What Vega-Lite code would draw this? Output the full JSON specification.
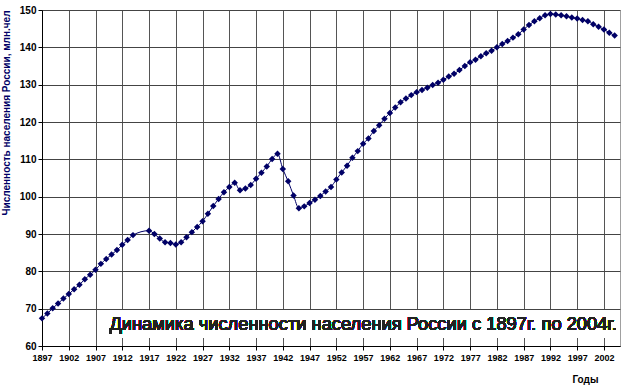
{
  "$schema": "https://vega.github.io/schema/vega-lite/v6.json",
  "width": 578,
  "height": 336,
  "autosize": {"type": "none"},
  "padding": {"left": 42, "top": 10, "right": 7, "bottom": 43},
  "background": "white",
  "config": {
    "view": {"stroke": "#a0a0a0", "strokeWidth": 1},
    "font": "Liberation Sans"
  },
  "data": {"values": [
    {"year": 1897, "pop": 67.4}, {"year": 1898, "pop": 68.7}, {"year": 1899, "pop": 70.1},
    {"year": 1900, "pop": 71.4}, {"year": 1901, "pop": 72.7}, {"year": 1902, "pop": 73.9},
    {"year": 1903, "pop": 75.2}, {"year": 1904, "pop": 76.4}, {"year": 1905, "pop": 77.9},
    {"year": 1906, "pop": 79.1}, {"year": 1907, "pop": 80.4}, {"year": 1908, "pop": 82.0},
    {"year": 1909, "pop": 83.3}, {"year": 1910, "pop": 84.5}, {"year": 1911, "pop": 85.7},
    {"year": 1912, "pop": 87.1}, {"year": 1913, "pop": 88.4}, {"year": 1914, "pop": 89.7},
    {"year": 1917, "pop": 90.9}, {"year": 1918, "pop": 90.0}, {"year": 1919, "pop": 88.8},
    {"year": 1920, "pop": 87.8}, {"year": 1921, "pop": 87.6}, {"year": 1922, "pop": 87.2},
    {"year": 1923, "pop": 87.8}, {"year": 1924, "pop": 89.1}, {"year": 1925, "pop": 90.5},
    {"year": 1926, "pop": 91.9}, {"year": 1927, "pop": 93.4}, {"year": 1928, "pop": 95.4},
    {"year": 1929, "pop": 97.5}, {"year": 1930, "pop": 99.4}, {"year": 1931, "pop": 101.2},
    {"year": 1932, "pop": 102.6}, {"year": 1933, "pop": 103.7}, {"year": 1934, "pop": 101.7},
    {"year": 1935, "pop": 102.2}, {"year": 1936, "pop": 103.1}, {"year": 1937, "pop": 104.8},
    {"year": 1938, "pop": 106.4}, {"year": 1939, "pop": 108.1}, {"year": 1940, "pop": 110.1},
    {"year": 1941, "pop": 111.5}, {"year": 1942, "pop": 107.4}, {"year": 1943, "pop": 104.1},
    {"year": 1944, "pop": 100.3}, {"year": 1945, "pop": 96.9}, {"year": 1946, "pop": 97.4},
    {"year": 1947, "pop": 98.3}, {"year": 1948, "pop": 99.2}, {"year": 1949, "pop": 100.2},
    {"year": 1950, "pop": 101.4}, {"year": 1951, "pop": 102.6}, {"year": 1952, "pop": 104.6},
    {"year": 1953, "pop": 106.5}, {"year": 1954, "pop": 108.3}, {"year": 1955, "pop": 110.4},
    {"year": 1956, "pop": 112.2}, {"year": 1957, "pop": 114.2}, {"year": 1958, "pop": 115.6},
    {"year": 1959, "pop": 117.6}, {"year": 1960, "pop": 119.1}, {"year": 1961, "pop": 120.9},
    {"year": 1962, "pop": 122.4}, {"year": 1963, "pop": 123.9}, {"year": 1964, "pop": 125.3},
    {"year": 1965, "pop": 126.3}, {"year": 1966, "pop": 127.2}, {"year": 1967, "pop": 128.0},
    {"year": 1968, "pop": 128.6}, {"year": 1969, "pop": 129.2}, {"year": 1970, "pop": 129.9},
    {"year": 1971, "pop": 130.5}, {"year": 1972, "pop": 131.3}, {"year": 1973, "pop": 132.2},
    {"year": 1974, "pop": 132.9}, {"year": 1975, "pop": 133.9}, {"year": 1976, "pop": 135.0},
    {"year": 1977, "pop": 136.0}, {"year": 1978, "pop": 136.7}, {"year": 1979, "pop": 137.6},
    {"year": 1980, "pop": 138.4}, {"year": 1981, "pop": 139.1}, {"year": 1982, "pop": 140.0},
    {"year": 1983, "pop": 140.9}, {"year": 1984, "pop": 141.7}, {"year": 1985, "pop": 142.6},
    {"year": 1986, "pop": 143.5}, {"year": 1987, "pop": 144.8}, {"year": 1988, "pop": 146.0},
    {"year": 1989, "pop": 147.0}, {"year": 1990, "pop": 147.8}, {"year": 1991, "pop": 148.6},
    {"year": 1992, "pop": 148.9}, {"year": 1993, "pop": 148.8}, {"year": 1994, "pop": 148.6},
    {"year": 1995, "pop": 148.3}, {"year": 1996, "pop": 148.0}, {"year": 1997, "pop": 147.7},
    {"year": 1998, "pop": 147.3}, {"year": 1999, "pop": 147.0}, {"year": 2000, "pop": 146.2},
    {"year": 2001, "pop": 145.5}, {"year": 2002, "pop": 144.8}, {"year": 2003, "pop": 143.9},
    {"year": 2004, "pop": 143.2}
  ]},
  "layer": [
    {
      "mark": {"type": "line", "color": "#000066", "strokeWidth": 1, "interpolate": "monotone",
               "point": {"shape": "diamond", "size": 42, "filled": true, "color": "#000066"}},
      "encoding": {
        "x": {
          "field": "year", "type": "quantitative",
          "scale": {"domain": [1897, 2005], "nice": false, "zero": false},
          "axis": {
            "values": [1897, 1902, 1907, 1912, 1917, 1922, 1927, 1932, 1937, 1942, 1947, 1952, 1957, 1962, 1967, 1972, 1977, 1982, 1987, 1992, 1997, 2002],
            "tickCount": 60,
            "format": "d",
            "title": "Годы",
            "titleAnchor": "end",
            "titleAlign": "right",
            "titleBaseline": "alphabetic",
            "titleX": 556,
            "titleY": 36,
            "titleFont": "Liberation Sans",
            "titleFontSize": 10,
            "titleFontWeight": "bold",
            "titleColor": "#000000",
            "labelFont": "Liberation Sans",
            "labelFontSize": 9,
            "labelFontWeight": "bold",
            "labelColor": "#000000",
            "labelPadding": 3,
            "labelFlush": false,
            "labelOverlap": false,
            "domainColor": "#000000",
            "tickColor": "#000000",
            "tickSize": 4,
            "grid": true,
            "gridColor": "#555555",
            "gridWidth": 1
          }
        },
        "y": {
          "field": "pop", "type": "quantitative",
          "scale": {"domain": [60, 150], "nice": false, "zero": false},
          "axis": {
            "values": [60, 70, 80, 90, 100, 110, 120, 130, 140, 150],
            "tickCount": 30,
            "title": "Численность населения России, млн.чел",
            "titleAnchor": "end",
            "titleFont": "Liberation Sans",
            "titleFontSize": 10,
            "titleFontWeight": "bold",
            "titleColor": "#000066",
            "titlePadding": 8,
            "labelFont": "Liberation Sans",
            "labelFontSize": 10,
            "labelFontWeight": "bold",
            "labelColor": "#000000",
            "labelPadding": 2,
            "labelFlush": false,
            "labelOverlap": false,
            "domainColor": "#000000",
            "tickColor": "#000000",
            "tickSize": 4,
            "grid": true,
            "gridColor": "#444444",
            "gridWidth": 1
          }
        }
      }
    },
    {
      "mark": {"type": "rect", "fill": "white", "stroke": null},
      "encoding": {
        "x": {"datum": 1907.6, "type": "quantitative"},
        "x2": {"datum": 2005},
        "y": {"datum": 69.5, "type": "quantitative"},
        "y2": {"datum": 62.3}
      }
    },
    {
      "mark": {"type": "text", "align": "left", "baseline": "middle", "font": "Liberation Sans", "fontSize": 18.3, "color": "#222222"},
      "encoding": {
        "x": {"datum": 1909.6, "type": "quantitative"},
        "y": {"datum": 65.7, "type": "quantitative"},
        "text": {"value": "Динамика численности населения России с 1897г. по 2004г."}
      }
    }
  ]
}
